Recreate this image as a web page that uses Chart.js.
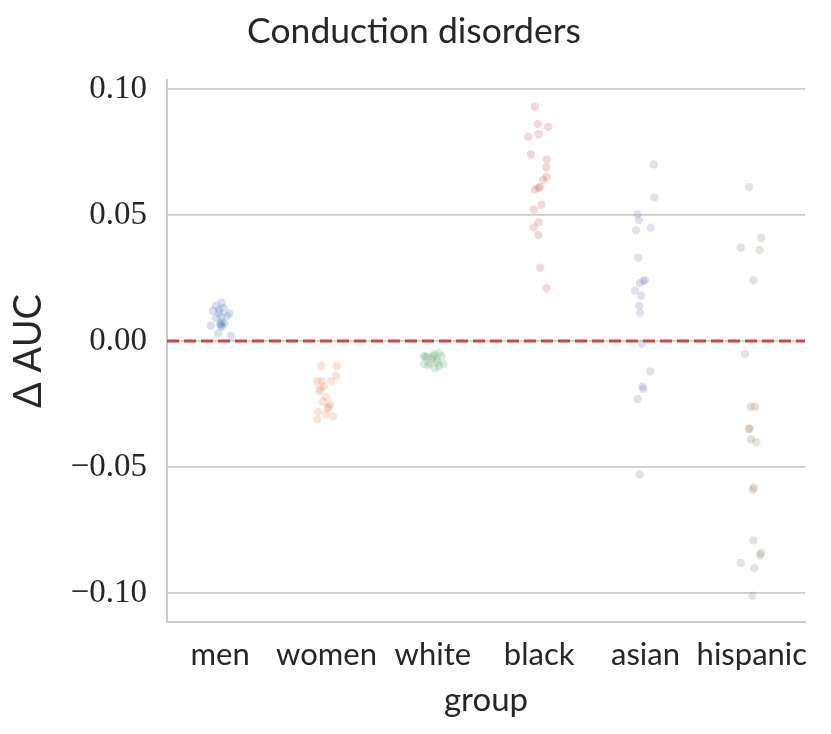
<!DOCTYPE html>
<html>
<head>
<meta charset="utf-8">
<script src="https://cdn.jsdelivr.net/npm/chart.js@4.4.1/dist/chart.umd.min.js"></script>
<style>
  html, body { margin: 0; padding: 0; background: #fff; }
  #wrap { width: 831px; height: 734px; }
</style>
</head>
<body>
<div id="wrap"><canvas id="chart" width="831" height="734"></canvas></div>
<script>
// categories and tick labels
const groups = ['men', 'women', 'white', 'black', 'asian', 'hispanic'];
const yTicks = [-0.10, -0.05, 0.00, 0.05, 0.10];

// Delta AUC per seed (y) and the strip jitter (x offset)
const menY = [0.0140, 0.0152, 0.0120, 0.0123, 0.0130, 0.0110, 0.0100, 0.0091, 0.0095, 0.0070,
  0.0068, 0.0063, 0.0061, 0.0057, 0.0031, 0.0021, 0.0110, 0.0075];
const menJ = [-0.040, 0.014, -0.068, -0.008, 0.031, 0.086, 0.067, -0.040, 0.014, 0.039,
  -0.002, 0.008, -0.087, 0.014, -0.018, 0.102, -0.011, 0.017];

const womenY = [-0.0100, -0.0100, -0.0139, -0.0159, -0.0159, -0.0159, -0.0181, -0.0188, -0.0198,
  -0.0221, -0.0241, -0.0251, -0.0267, -0.0280, -0.0291, -0.0300, -0.0311, -0.0262];
const womenJ = [-0.052, 0.096, 0.089, -0.087, -0.045, 0.042, -0.024, -0.055, -0.068,
  -0.005, -0.036, 0.033, 0.011, -0.077, -0.005, 0.064, -0.087, 0.020];

const whiteY = [-0.0060, -0.0062, -0.0060, -0.0046, -0.0060, -0.0073, -0.0069, -0.0062,
  -0.0091, -0.0089, -0.0091, -0.0108, -0.0099, -0.0083, -0.0052, -0.0095];
const whiteJ = [-0.083, -0.073, 0.005, 0.061, 0.084, 0.037, -0.010, -0.052,
  -0.083, -0.026, 0.099, 0.021, 0.061, 0.040, 0.011, -0.045];

const blackY = [0.0931, 0.0861, 0.0850, 0.0821, 0.0811, 0.0741, 0.0721, 0.0690, 0.0651, 0.0640,
  0.0611, 0.0608, 0.0601, 0.0541, 0.0521, 0.0471, 0.0451, 0.0421, 0.0291, 0.0210];
const blackJ = [-0.040, -0.014, 0.086, -0.005, -0.103, -0.077, 0.073, 0.067, 0.071, 0.036,
  0.008, -0.008, -0.040, 0.020, -0.052, -0.005, -0.049, -0.008, 0.010, 0.071];

const asianY = [0.0701, 0.0570, 0.0503, 0.0480, 0.0440, 0.0450, 0.0331, 0.0241, 0.0238, 0.0230,
  0.0200, 0.0180, 0.0140, 0.0110, -0.0011, -0.0120, -0.0181, -0.0190, -0.0230, -0.0530];
const asianJ = [0.077, 0.083, -0.077, -0.061, -0.089, 0.049, -0.068, -0.005, -0.021, -0.052,
  -0.099, -0.042, -0.058, -0.052, -0.033, 0.045, -0.030, -0.021, -0.073, -0.055];

const hispanicY = [0.0611, 0.0410, 0.0370, 0.0361, 0.0241, -0.0050, -0.0261, -0.0261, -0.0349, -0.0347,
  -0.0390, -0.0401, -0.0581, -0.0590, -0.0791, -0.0841, -0.0850, -0.0881, -0.0901, -0.1011];
const hispanicJ = [-0.026, 0.089, -0.104, 0.074, 0.014, -0.064, -0.010, 0.030, -0.026, -0.022,
  -0.008, 0.042, 0.018, 0.008, 0.014, 0.087, 0.077, -0.104, 0.023, 0.005];

const colors = ['76,114,176', '221,132,82', '85,168,104', '196,78,82', '129,114,179', '147,120,96'];

const series = [[menY, menJ], [womenY, womenJ], [whiteY, whiteJ],
  [blackY, blackJ], [asianY, asianJ], [hispanicY, hispanicJ]];

const SANS = 'Lato, "Noto Sans", sans-serif';
const SERIF = '"Liberation Serif", serif';
const INK = '#262626';
const GRID = '#cccccc';

function fmt(v) {
  const s = Math.abs(v).toFixed(2);
  return v < -1e-9 ? '\u2212' + s : s;
}

const datasets = [{
  label: 'zero',
  data: [{x: -0.5, y: 0}, {x: 5.5, y: 0}],
  showLine: true,
  borderColor: '#c9464c',
  borderWidth: 3,
  borderDash: [12, 5],
  pointRadius: 0
}];

series.forEach(([ys, js], i) => {
  datasets.push({
    label: groups[i],
    data: ys.map((y, k) => ({x: i + js[k], y: y})),
    backgroundColor: 'rgba(' + colors[i] + ',0.22)',
    borderWidth: 0,
    pointRadius: 4.2
  });
});

new Chart(document.getElementById('chart'), {
  type: 'scatter',
  data: { datasets: datasets },
  options: {
    responsive: false,
    animation: false,
    devicePixelRatio: 1,
    layout: { padding: { left: 23, right: 26, top: 0, bottom: 0 } },
    plugins: {
      legend: { display: false },
      tooltip: { enabled: false },
      title: {
        display: true,
        text: 'Conduction disorders',
        color: INK,
        font: { family: SANS, size: 35.5, weight: 'normal' },
        padding: { top: 10, bottom: 27.4 }
      }
    },
    scales: {
      x: {
        type: 'linear',
        min: -0.5,
        max: 5.5,
        afterBuildTicks: (s) => { s.ticks = groups.map((g, i) => ({value: i})); },
        afterFit: (s) => { s.height = 112; },
        ticks: {
          color: INK,
          font: { family: SANS, size: 31 },
          padding: 14,
          maxRotation: 0,
          autoSkip: false,
          callback: (v) => groups[v]
        },
        grid: { display: false, drawTicks: false },
        border: { display: true, color: GRID, width: 2 },
        title: {
          display: true,
          text: 'group',
          color: INK,
          font: { family: SANS, size: 33 },
          padding: { top: 0, bottom: 14 }
        }
      },
      y: {
        min: -0.1115,
        max: 0.1036,
        afterBuildTicks: (s) => { s.ticks = yTicks.map(v => ({value: v})); },
        afterFit: (s) => { s.width = 144; },
        ticks: {
          color: INK,
          font: { family: SERIF, size: 33 },
          padding: 20,
          callback: (v) => fmt(v)
        },
        grid: { color: GRID, lineWidth: 1.8, drawTicks: false },
        border: { display: true, color: GRID, width: 2 },
        title: {
          display: true,
          text: '\u0394 AUC',
          color: INK,
          font: { family: SANS, size: 38 },
          padding: { top: -16.8, bottom: 0 }
        }
      }
    }
  }
});
</script>
</body>
</html>
